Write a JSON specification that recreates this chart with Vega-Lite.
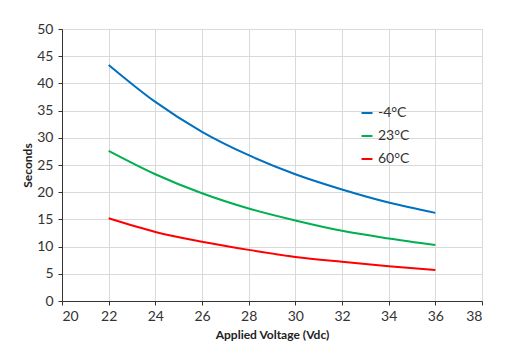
{
  "$schema": "https://vega.github.io/schema/vega-lite/v6.json",
  "autosize": "none",
  "width": 420,
  "height": 272,
  "padding": {"left": 62, "top": 29, "right": 45, "bottom": 59},
  "background": "white",
  "config": {
    "view": {"stroke": null},
    "font": "Lato",
    "axis": {"labelFont": "Lato", "titleFont": "Lato", "labelColor": "#333333", "titleColor": "#222222", "gridColor": "#d9d9d9", "gridWidth": 1, "domainColor": "#333333", "tickColor": "#333333", "labelFontSize": 14, "titleFontSize": 12, "titleFontWeight": "bold"}
  },
  "data": {"values": [
    {"v": 22, "t": "-4°C", "s": 43.4},
    {"v": 24, "t": "-4°C", "s": 36.6},
    {"v": 26, "t": "-4°C", "s": 31.1},
    {"v": 28, "t": "-4°C", "s": 26.8},
    {"v": 30, "t": "-4°C", "s": 23.3},
    {"v": 32, "t": "-4°C", "s": 20.5},
    {"v": 34, "t": "-4°C", "s": 18.1},
    {"v": 36, "t": "-4°C", "s": 16.2},
    {"v": 22, "t": "23°C", "s": 27.6},
    {"v": 24, "t": "23°C", "s": 23.3},
    {"v": 26, "t": "23°C", "s": 19.8},
    {"v": 28, "t": "23°C", "s": 17.0},
    {"v": 30, "t": "23°C", "s": 14.8},
    {"v": 32, "t": "23°C", "s": 12.9},
    {"v": 34, "t": "23°C", "s": 11.5},
    {"v": 36, "t": "23°C", "s": 10.3},
    {"v": 22, "t": "60°C", "s": 15.2},
    {"v": 24, "t": "60°C", "s": 12.7},
    {"v": 26, "t": "60°C", "s": 10.9},
    {"v": 28, "t": "60°C", "s": 9.4},
    {"v": 30, "t": "60°C", "s": 8.1},
    {"v": 32, "t": "60°C", "s": 7.2},
    {"v": 34, "t": "60°C", "s": 6.4},
    {"v": 36, "t": "60°C", "s": 5.7}
  ]},
  "mark": {"type": "line", "interpolate": "monotone", "strokeWidth": 2},
  "encoding": {
    "x": {"field": "v", "type": "quantitative", "scale": {"domain": [20, 38], "nice": false, "zero": false},
      "axis": {"values": [20,22,24,26,28,30,32,34,36,38], "title": "Applied Voltage (Vdc)", "tickSize": 4, "labelPadding": 4, "titlePadding": 6}},
    "y": {"field": "s", "type": "quantitative", "scale": {"domain": [0, 50], "nice": false},
      "axis": {"values": [0,5,10,15,20,25,30,35,40,45,50], "title": "Seconds", "tickSize": 4, "labelPadding": 5, "titlePadding": 2}},
    "color": {"field": "t", "type": "nominal", "sort": ["-4°C", "23°C", "60°C"],
      "scale": {"domain": ["-4°C", "23°C", "60°C"], "range": ["#0070C0", "#00B050", "#FF0000"]},
      "legend": {"title": null, "orient": "none", "legendX": 298, "legendY": 77, "symbolType": "stroke", "symbolSize": 120, "symbolStrokeWidth": 2, "labelFont": "Lato", "labelFontSize": 14, "labelColor": "#333333", "rowPadding": 9, "labelOffset": 4}}
  }
}
